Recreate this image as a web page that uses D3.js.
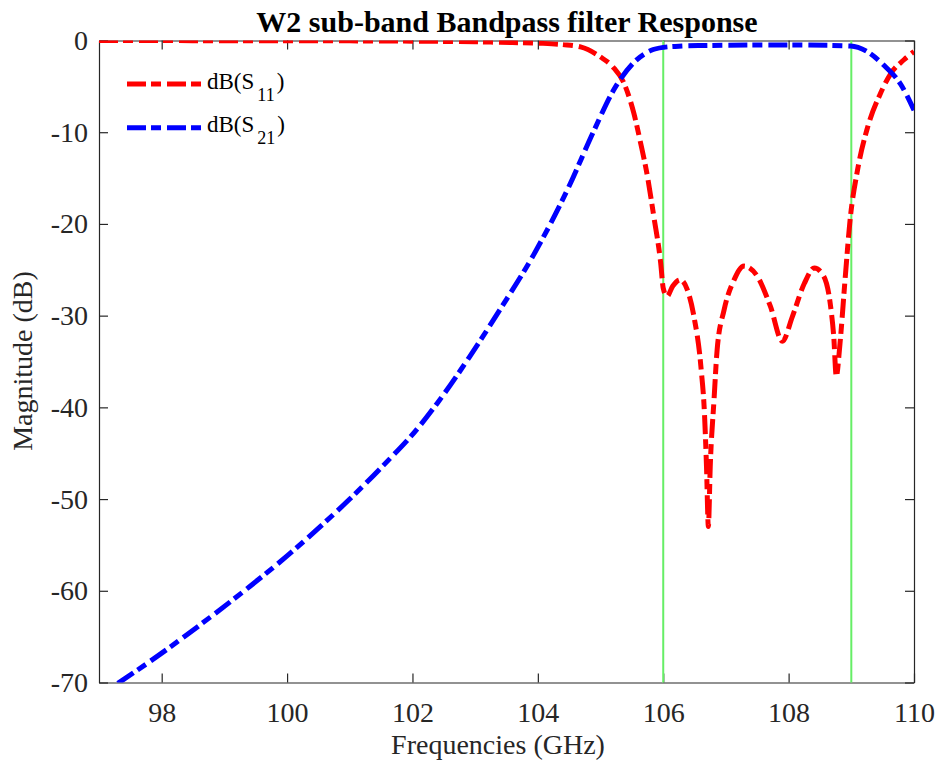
<!DOCTYPE html>
<html>
<head>
<meta charset="utf-8">
<script src="https://cdn.jsdelivr.net/npm/d3@7"></script>
<style>
  body { margin: 0; background: #fff; }
  svg { display: block; }
  .axis path, .axis line { stroke: #262626; stroke-width: 1.2; }
  .axis text { fill: #262626; font-size: 28px; font-family: "Liberation Serif", serif; }
</style>
</head>
<body>
<div id="chart"></div>
<script>
var serif = '"Liberation Serif", "Times New Roman", serif'

// frequency points (GHz) and magnitudes (dB)
var s11Freq = [97, 98, 99, 100, 101, 102, 102.5, 103, 103.4, 104.04, 104.4, 104.68, 105.0, 105.2, 105.37, 105.53, 105.64,
  105.74, 105.85, 105.96, 106.0, 106.06, 106.15, 106.27, 106.38, 106.49, 106.6, 106.66, 106.69, 106.72, 106.75,
  106.81, 106.86, 106.97, 107.13, 107.29, 107.5, 107.71, 107.9, 108.06, 108.25, 108.41, 108.56, 108.67, 108.72,
  108.76, 108.82, 108.9, 108.98, 109.1, 109.25, 109.47, 109.63, 109.84, 110]
var s11dB = [-0.01, -0.01, -0.02, -0.03, -0.04, -0.07, -0.1, -0.14, -0.2, -0.3, -0.45, -0.7, -1.8, -2.9, -4.6, -7.9, -11.2,
  -14.5, -19.2, -24.3, -27.0, -27.9, -26.8, -26.1, -27.1, -30.1, -35.5, -41.0, -46.4, -53.0, -46.4,
  -39.2, -33.7, -29.4, -26.1, -24.6, -25.7, -29.0, -32.8, -30.1, -26.5, -24.8, -25.7, -29.0, -32.3,
  -36.6, -33.0, -26.1, -19.6, -14.1, -9.7, -5.7, -3.6, -2.1, -1.2]

var s21Freq = [97.3, 98.0, 98.77, 99.41, 100.0, 100.48, 101.0, 101.54, 102.07, 102.39, 102.9, 103.4, 103.93,
  104.47, 104.89, 105.2, 105.53, 105.8, 106.0, 106.3, 106.6, 107.5, 108.19, 108.99, 109.25, 109.52, 109.79, 110]
var s21dB = [-70.1, -66.8, -62.9, -59.5, -56.2, -53.3, -50.0, -46.3, -42.4, -39.6, -34.6, -29.3, -23.4,
  -16.3, -9.9, -5.5, -2.4, -1.1, -0.75, -0.6, -0.55, -0.5, -0.5, -0.6, -1.2, -2.7, -4.8, -7.6]

var markerFreq = [106, 109]
var xTicks = [98, 100, 102, 104, 106, 108, 110]
var yTicks = [0, -10, -20, -30, -40, -50, -60, -70]
var seriesNames = ['11', '21']
var seriesColors = ['#ff0000', '#0000ff']

var margin = { top: 40.5, left: 99, right: 24, bottom: 79.5 }
var totalW = 938
var totalH = 762
var width = totalW - margin.left - margin.right
var height = totalH - margin.top - margin.bottom

var svg = d3
  .select('#chart')
  .append('svg')
  .attr('width', totalW)
  .attr('height', totalH)
  .attr('font-family', serif)

var g = svg.append('g').attr('transform', `translate(${margin.left},${margin.top})`)

var x = d3.scaleLinear().domain([97, 110]).range([0, width])
var y = d3.scaleLinear().domain([-70, 0]).range([height, 0])

g.append('clipPath')
  .attr('id', 'plot-clip')
  .append('rect')
  .attr('width', width)
  .attr('height', height)

/* Axes, ticks pointing inward like MATLAB */
g.append('g')
  .attr('class', 'axis x-axis')
  .attr('transform', `translate(0,${height})`)
  .call(d3.axisBottom(x).tickValues(xTicks).tickSize(-9).tickSizeOuter(0).tickPadding(20).tickFormat(d3.format('d')))

g.append('g')
  .attr('class', 'axis')
  .call(d3.axisTop(x).tickValues(xTicks).tickSize(-9).tickSizeOuter(0).tickFormat(''))

g.append('g')
  .attr('class', 'axis y-axis')
  .call(d3.axisLeft(y).tickValues(yTicks).tickSize(-9).tickSizeOuter(0).tickPadding(11).tickFormat(d => String(d)))

g.append('g')
  .attr('class', 'axis')
  .attr('transform', `translate(${width},0)`)
  .call(d3.axisRight(y).tickValues(yTicks).tickSize(-9).tickSizeOuter(0).tickFormat(''))

g.selectAll('.axis').attr('font-family', serif).attr('font-size', 28)

/* Band edge markers */
g.selectAll('.marker')
  .data(markerFreq)
  .enter()
  .append('line')
  .attr('class', 'marker')
  .attr('x1', d => x(d))
  .attr('x2', d => x(d))
  .attr('y1', 0)
  .attr('y2', height)
  .attr('stroke', '#66ee66')
  .attr('stroke-width', 2)

/* Curves */
var line = d3
  .line()
  .x(d => x(d[0]))
  .y(d => y(d[1]))
  .curve(d3.curveMonotoneX)

var curves = [d3.zip(s11Freq, s11dB), d3.zip(s21Freq, s21dB)]

g.append('g')
  .attr('clip-path', 'url(#plot-clip)')
  .selectAll('path')
  .data(curves)
  .enter()
  .append('path')
  .attr('d', line)
  .attr('fill', 'none')
  .attr('stroke', (d, i) => seriesColors[i])
  .attr('stroke-width', 5)
  .attr('stroke-dasharray', '19,5,10,6')

/* Legend */
var legend = svg
  .selectAll('.legend')
  .data(seriesNames)
  .enter()
  .append('g')
  .attr('class', 'legend')
  .attr('transform', (d, i) => `translate(127,${84 + i * 43.7})`)

legend
  .append('line')
  .attr('x1', 0)
  .attr('x2', 75)
  .attr('stroke', (d, i) => seriesColors[i])
  .attr('stroke-width', 5)
  .attr('stroke-dasharray', '19,5,10,6')

var legendText = legend
  .append('text')
  .attr('x', 80)
  .attr('y', 4.5)
  .attr('font-family', serif)
  .attr('font-size', 23)
  .attr('fill', '#000')
legendText.append('tspan').text('dB(S')
legendText.append('tspan').attr('dx', 3).attr('dy', 12).attr('font-size', 18).text(d => d)
legendText.append('tspan').attr('dx', 2).attr('dy', -12).text(')')

/* Titles */
svg.append('text')
  .attr('x', 507)
  .attr('y', 32)
  .attr('text-anchor', 'middle')
  .attr('font-family', serif)
  .attr('font-size', 30)
  .attr('font-weight', 'bold')
  .attr('fill', '#000')
  .text('W2 sub-band Bandpass filter Response')

svg.append('text')
  .attr('x', 498)
  .attr('y', 754)
  .attr('text-anchor', 'middle')
  .attr('font-family', serif)
  .attr('font-size', 28)
  .attr('fill', '#262626')
  .text('Frequencies (GHz)')

svg.append('text')
  .attr('transform', 'translate(32,361) rotate(-90)')
  .attr('text-anchor', 'middle')
  .attr('font-family', serif)
  .attr('font-size', 28)
  .attr('fill', '#262626')
  .text('Magnitude (dB)')
</script>
</body>
</html>
